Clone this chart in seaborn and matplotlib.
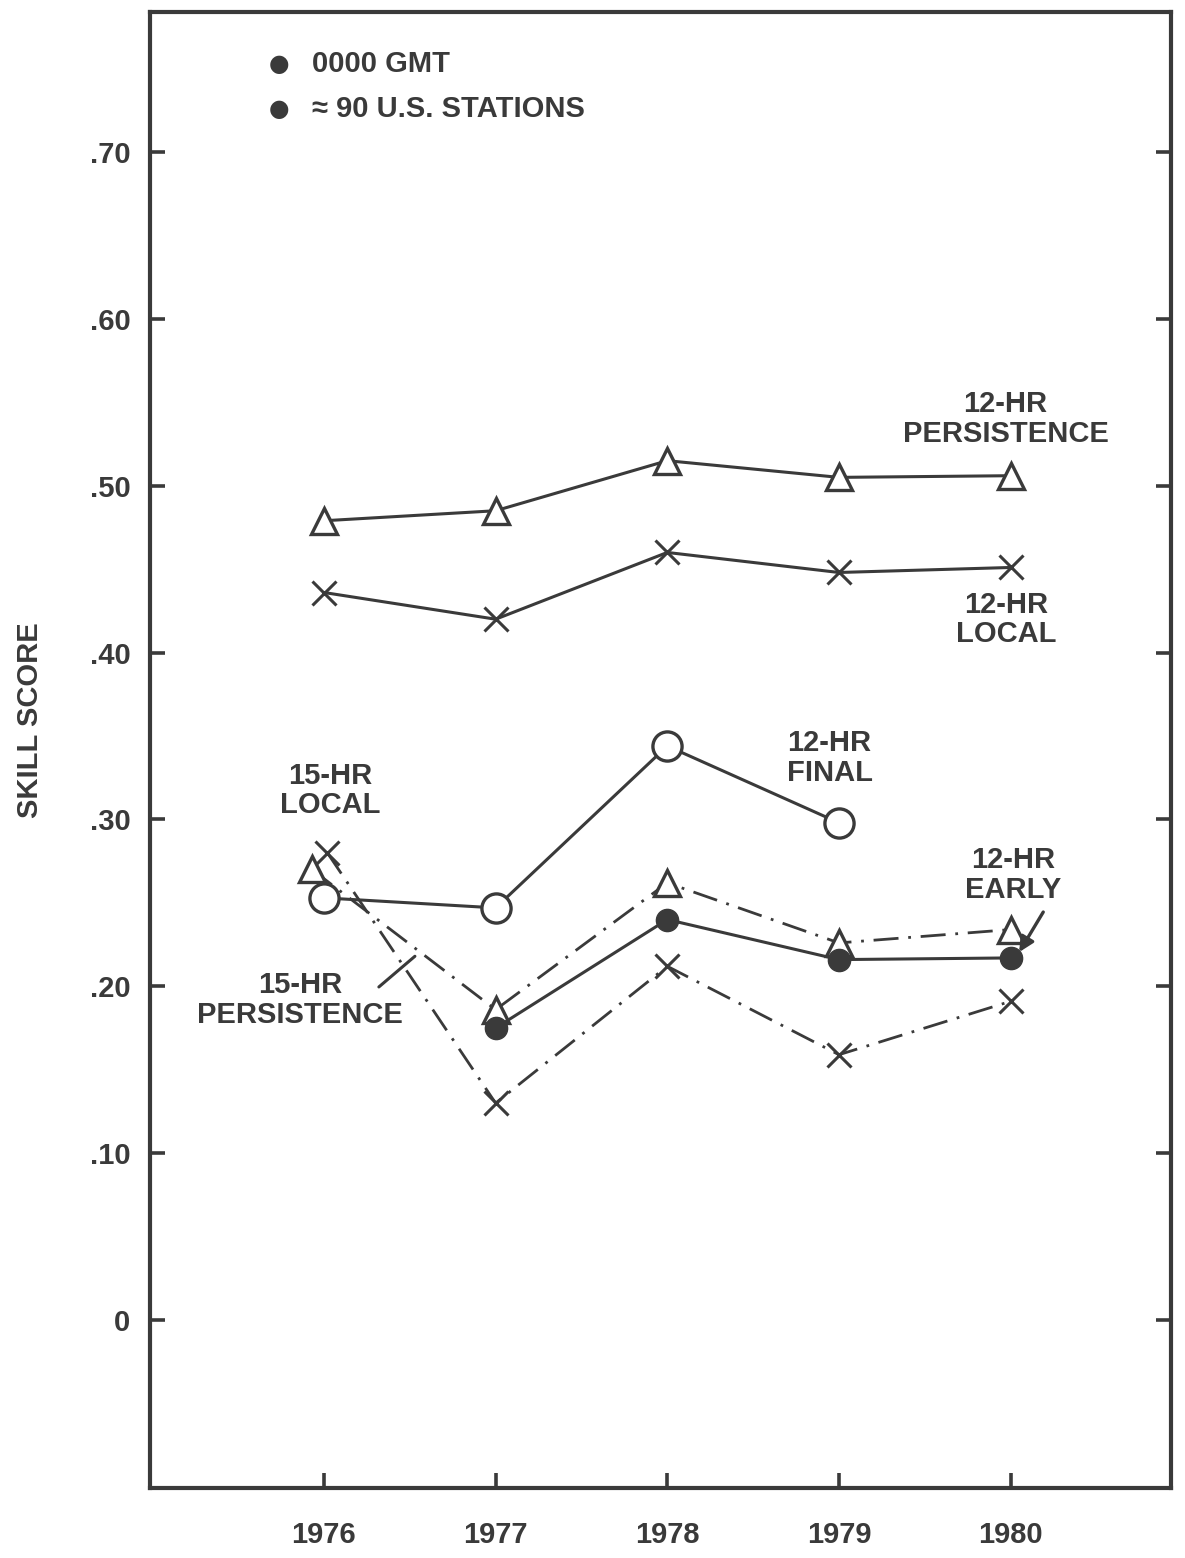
import matplotlib
matplotlib.use("Agg")
import matplotlib.pyplot as plt
import seaborn as sns

# Forecast years
years = [1976, 1977, 1978, 1979, 1980]

# 12-hour forecasts
persist_12 = [0.479, 0.485, 0.515, 0.505, 0.506]
local_12 = [0.436, 0.420, 0.460, 0.448, 0.451]
final_12_years = [1976, 1977, 1978, 1979]
final_12 = [0.253, 0.247, 0.344, 0.298]
early_12_years = [1977, 1978, 1979, 1980]
early_12 = [0.175, 0.240, 0.216, 0.217]

# 15-hour forecasts (1976 points plotted slightly apart so they stay legible)
persist_15_x = [1975.93, 1977, 1978, 1979, 1980]
persist_15 = [0.270, 0.186, 0.262, 0.226, 0.234]
local_15_x = [1976.02, 1977, 1978, 1979, 1980]
local_15 = [0.280, 0.130, 0.212, 0.159, 0.191]

y_ticks = [0.0, 0.10, 0.20, 0.30, 0.40, 0.50, 0.60, 0.70]
y_tick_labels = ["0", ".10", ".20", ".30", ".40", ".50", ".60", ".70"]
x_tick_labels = ["1976", "1977", "1978", "1979", "1980"]

INK = "#3a3a3a"
FONT = ["Liberation Sans", "DejaVu Sans"]

sns.set_theme(style="white")
plt.rcParams["font.family"] = FONT
plt.rcParams["font.weight"] = "bold"

fig = plt.figure(figsize=(11.85, 15.58), dpi=100)
ax = fig.add_axes([0.1266, 0.0449, 0.862, 0.9474])

solid = dict(color=INK, linewidth=2.2, errorbar=None, sort=False, ax=ax)
dashdot = dict(color=INK, linewidth=2.0, errorbar=None, sort=False, ax=ax,
               linestyle=(0, (9, 3.5, 1, 3.5)))

open_tri = dict(marker="^", markersize=19, markerfacecolor="white",
                markeredgecolor=INK, markeredgewidth=2.4)
cross = dict(marker="x", markersize=17, markeredgecolor=INK, markeredgewidth=2.2)
open_circ = dict(marker="o", markersize=21, markerfacecolor="white",
                 markeredgecolor=INK, markeredgewidth=2.4)
dot = dict(marker="o", markersize=16, markerfacecolor=INK,
           markeredgecolor=INK, markeredgewidth=1.0)

# 15-hour series (dash-dot)
sns.lineplot(x=local_15_x, y=local_15, **dashdot, **cross)
sns.lineplot(x=persist_15_x, y=persist_15, **dashdot, **open_tri)

# 12-hour series (solid)
sns.lineplot(x=years, y=persist_12, **solid, **open_tri)
sns.lineplot(x=years, y=local_12, **solid, **cross)
sns.lineplot(x=early_12_years, y=early_12, **solid, **dot)
sns.lineplot(x=final_12_years, y=final_12, **solid, **open_circ)

ax.set_xlim(1974.987, 1980.937)
ax.set_ylim(-0.1007, 0.7839)
ax.set_xticks(years)
ax.set_xticklabels(x_tick_labels)
ax.set_yticks(y_ticks)
ax.set_yticklabels(y_tick_labels)
ax.set_xlabel("")
ax.set_ylabel("")

for side in ["left", "right", "top", "bottom"]:
    ax.spines[side].set_visible(True)
    ax.spines[side].set_color(INK)
    ax.spines[side].set_linewidth(3.0)

ax.tick_params(axis="y", direction="in", length=11, width=2.6, color=INK,
               left=True, right=True, labelright=False, pad=14,
               labelsize=21, labelcolor=INK)
ax.tick_params(axis="x", direction="in", length=11, width=2.6, color=INK,
               bottom=True, top=False, pad=24, labelsize=21, labelcolor=INK)
for lab in ax.get_xticklabels() + ax.get_yticklabels():
    lab.set_fontweight("bold")

txt = dict(color=INK, fontsize=21, fontweight="bold", ha="center", va="center",
           linespacing=1.05)
ax.text(1979.971, 0.540, "12-HR\nPERSISTENCE", **txt)
ax.text(1979.977, 0.420, "12-HR\nLOCAL", **txt)
ax.text(1978.946, 0.3368, "12-HR\nFINAL", **txt)
ax.text(1976.035, 0.3176, "15-HR\nLOCAL", **txt)
ax.text(1975.86, 0.1918, "15-HR\nPERSISTENCE", **txt)
ax.text(1980.012, 0.2667, "12-HR\nEARLY", **txt)

# Leader lines from labels
ax.annotate("", xy=(1980.05, 0.2205), xytext=(1980.19, 0.2445),
            arrowprops=dict(arrowstyle="-|>", color=INK, lw=2.4,
                            mutation_scale=22, shrinkA=0, shrinkB=0))
ax.annotate("", xy=(1976.53, 0.218), xytext=(1976.32, 0.1996),
            arrowprops=dict(arrowstyle="-", color=INK, lw=2.2,
                            shrinkA=0, shrinkB=0))

# Header notes
ax.text(1975.74, 0.753, "\u25cf", color=INK, fontsize=17, ha="center",
        va="center", family=["DejaVu Sans"])
ax.text(1975.74, 0.726, "\u25cf", color=INK, fontsize=17, ha="center",
        va="center", family=["DejaVu Sans"])
ax.text(1975.93, 0.753, "0000 GMT", color=INK, fontsize=21,
        fontweight="bold", ha="left", va="center")
ax.text(1975.93, 0.726, "\u2248 90 U.S. STATIONS", color=INK, fontsize=21,
        fontweight="bold", ha="left", va="center")

fig.text(30 / 1185, 1 - 720 / 1558, "SKILL SCORE", rotation=90, color=INK,
         fontsize=21, fontweight="bold", ha="center", va="center")

fig.savefig("out.png", dpi=100, facecolor="white")
